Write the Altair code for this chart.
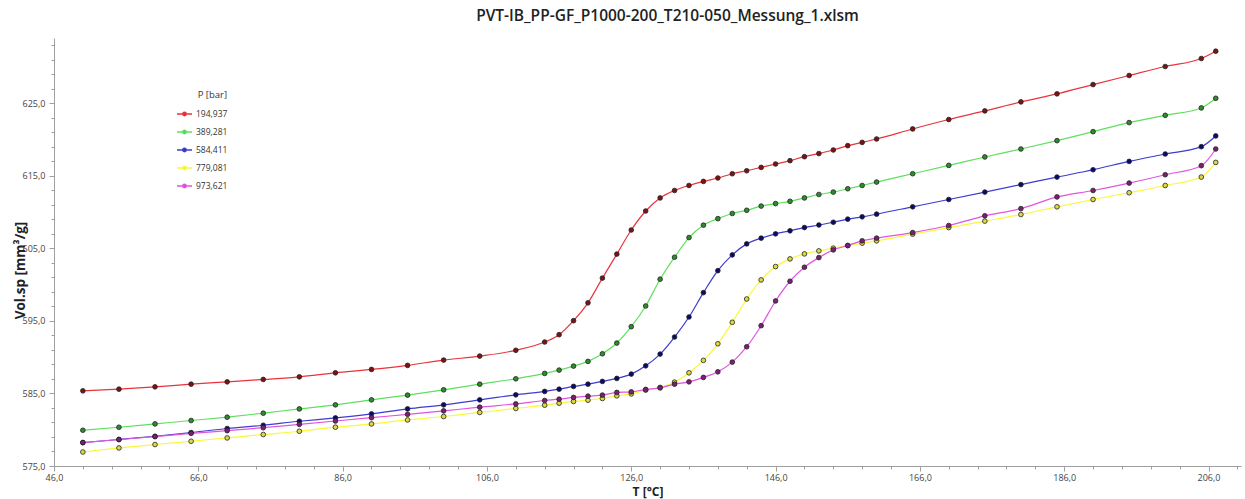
import altair as alt
import pandas as pd

# Temperatures (°C) of the measurement points
T = [50, 55, 60, 65, 70, 75, 80, 85, 90, 95, 100, 105, 110,
     114, 116, 118, 120, 122, 124, 126, 128, 130, 132, 134, 136, 138, 140, 142, 144, 146, 148, 150,
     152, 154, 156, 158, 160, 165, 170, 175, 180, 185, 190, 195, 200, 205, 207]

p194 = [585.36, 585.59, 585.91, 586.28, 586.60, 586.93, 587.29, 587.85, 588.31, 588.87, 589.60, 590.15, 590.95,
        592.09, 593.10, 595.03, 597.49, 600.90, 604.21, 607.53, 610.15, 611.95, 612.98, 613.67, 614.23, 614.70,
        615.29, 615.70, 616.16, 616.63, 617.09, 617.64, 618.07, 618.56, 619.16, 619.61, 620.08, 621.46, 622.76,
        623.95, 625.19, 626.30, 627.58, 628.83, 630.07, 631.17, 632.18]
p389 = [579.93, 580.34, 580.80, 581.27, 581.73, 582.28, 582.87, 583.43, 584.12, 584.77, 585.50, 586.28, 587.02,
        587.76, 588.22, 588.77, 589.42, 590.47, 591.95, 594.20, 597.06, 600.75, 603.78, 606.49, 608.20, 609.10,
        609.81, 610.25, 610.83, 611.17, 611.49, 611.95, 612.43, 612.76, 613.22, 613.67, 614.14, 615.29, 616.44,
        617.60, 618.70, 619.85, 621.09, 622.34, 623.34, 624.36, 625.69]
p584 = [578.23, 578.65, 579.10, 579.61, 580.17, 580.62, 581.17, 581.63, 582.18, 582.87, 583.43, 584.12, 584.81,
        585.28, 585.59, 585.97, 586.28, 586.66, 587.07, 587.67, 588.81, 590.43, 592.78, 595.54, 598.90, 601.93,
        604.10, 605.62, 606.41, 607.00, 607.42, 607.87, 608.22, 608.60, 609.03, 609.35, 609.72, 610.73, 611.74,
        612.76, 613.79, 614.83, 615.84, 616.99, 618.01, 619.02, 620.50]
p779 = [576.93, 577.49, 577.96, 578.41, 578.87, 579.34, 579.79, 580.35, 580.80, 581.35, 581.82, 582.38, 582.93,
        583.38, 583.66, 583.90, 584.07, 584.31, 584.67, 584.94, 585.46, 585.83, 586.56, 587.85, 589.56, 591.85,
        594.81, 598.02, 600.65, 602.49, 603.55, 604.24, 604.65, 605.03, 605.39, 605.72, 606.04, 606.96, 607.87,
        608.76, 609.67, 610.73, 611.74, 612.67, 613.67, 614.83, 616.85]
p973 = [578.23, 578.65, 579.04, 579.50, 579.87, 580.28, 580.74, 581.20, 581.66, 582.12, 582.60, 583.11, 583.56,
        584.03, 584.21, 584.45, 584.63, 584.77, 585.14, 585.22, 585.55, 585.77, 586.28, 586.60, 587.21, 587.98,
        589.32, 591.44, 594.34, 597.75, 600.47, 602.40, 603.73, 604.79, 605.39, 606.04, 606.41, 607.18, 608.15,
        609.49, 610.48, 612.09, 612.98, 614.00, 615.15, 616.40, 618.70]

labels = ["194,937", "389,281", "584,411", "779,081", "973,621"]
series = [p194, p389, p584, p779, p973]
line_colors = ["#e8343c", "#5ee05e", "#3c3cd0", "#f8f83c", "#e055e0"]
marker_fills = ["#7a1414", "#2e8b2e", "#0a0a6e", "#e0d840", "#7a2070"]

x_major = [46, 66, 86, 106, 126, 146, 166, 186, 206]
x_minor = list(range(46, 211, 4))
y_major = [575, 585, 595, 605, 615, 625]
y_minor = list(range(575, 634, 2))

rows = []
for lab, vals in zip(labels, series):
    for t, v in zip(T, vals):
        rows.append({"T": t, "V": v, "P": lab})
df = pd.DataFrame(rows)

fmt = "replace(format(datum.value, '.1f'), '.', ',')"
FONT = "Open Sans"
AX = "#a0a0a0"

x_scale = alt.Scale(domain=[46, 210.5], nice=False, zero=False)
y_scale = alt.Scale(domain=[575, 634], nice=False, zero=False)

x_axis_main = alt.Axis(values=x_major, labelExpr=fmt, orient="bottom", title="T [°C]",
                       titleFont=FONT, titleFontSize=12, titleFontWeight="bold", titleColor="#222",
                       titlePadding=4, labelFont=FONT, labelFontSize=9, labelColor="#444",
                       labelPadding=2, tickSize=5, tickColor=AX, domainColor=AX, grid=False,
                       labelFlush=False)
y_axis_main = alt.Axis(values=y_major, labelExpr=fmt, orient="left", title="Vol.sp [mm³/g]",
                       titleFont=FONT, titleFontSize=13.5, titleFontWeight="bold", titleColor="#222",
                       titleX=-34, titleY=232, titleAngle=270, titleAlign="center", titleBaseline="middle",
                       labelFont=FONT, labelFontSize=9, labelColor="#444", labelPadding=4,
                       tickSize=5, tickColor=AX, domainColor=AX, grid=False, labelFlush=False)
x_axis_minor = alt.Axis(values=x_minor, labels=False, domain=False, tickSize=3, tickColor=AX,
                        title=None, grid=False, orient="bottom")
y_axis_minor = alt.Axis(values=y_minor, labels=False, domain=False, tickSize=3, tickColor=AX,
                        title=None, grid=False, orient="left")

legend_path = "M-1,0L1,0M-0.22,0a0.22,0.22 0 1,0 0.44,0a0.22,0.22 0 1,0 -0.44,0"

lines = alt.Chart(df).mark_line(strokeWidth=1.2, interpolate="monotone").encode(
    x=alt.X("T:Q", scale=x_scale, axis=x_axis_minor),
    y=alt.Y("V:Q", scale=y_scale, axis=y_axis_minor),
    color=alt.Color("P:N", scale=alt.Scale(domain=labels, range=line_colors),
                    legend=alt.Legend(title="P [bar]", orient="none", legendX=122, legendY=52,
                                      symbolType=legend_path, symbolSize=225, symbolStrokeWidth=1.5,
                                      labelFont=FONT, labelFontSize=8.5, labelColor="#333",
                                      titleFont=FONT, titleFontSize=9.5, titleFontWeight="normal",
                                      titleColor="#333", titleAnchor="end", rowPadding=4,
                                      labelOffset=3, titlePadding=6)),
    order=alt.Order("T:Q"),
)

points = alt.Chart(df).mark_point(filled=True, size=22, opacity=1, strokeWidth=0.8).encode(
    x=alt.X("T:Q", scale=x_scale, axis=x_axis_main),
    y=alt.Y("V:Q", scale=y_scale, axis=y_axis_main),
    fill=alt.Fill("P:N", scale=alt.Scale(domain=labels, range=marker_fills), legend=None),
    stroke=alt.value("#222"),
)

chart = alt.layer(lines, points).resolve_axis(x="independent", y="independent").properties(
    width=1187, height=428,
    autosize=alt.AutoSizeParams(type="none"),
    padding={"left": 54, "top": 38, "right": 4, "bottom": 33},
    background="white",
    title=alt.TitleParams("PVT-IB_PP-GF_P1000-200_T210-050_Messung_1.xlsm", font=FONT, fontSize=15.5,
                          fontWeight=600, color="#222", anchor="middle", dx=20, offset=2,
                          baseline="alphabetic"),
).configure_view(stroke=None)

chart.save("out.html", embed_options={"renderer": "svg", "actions": False})
